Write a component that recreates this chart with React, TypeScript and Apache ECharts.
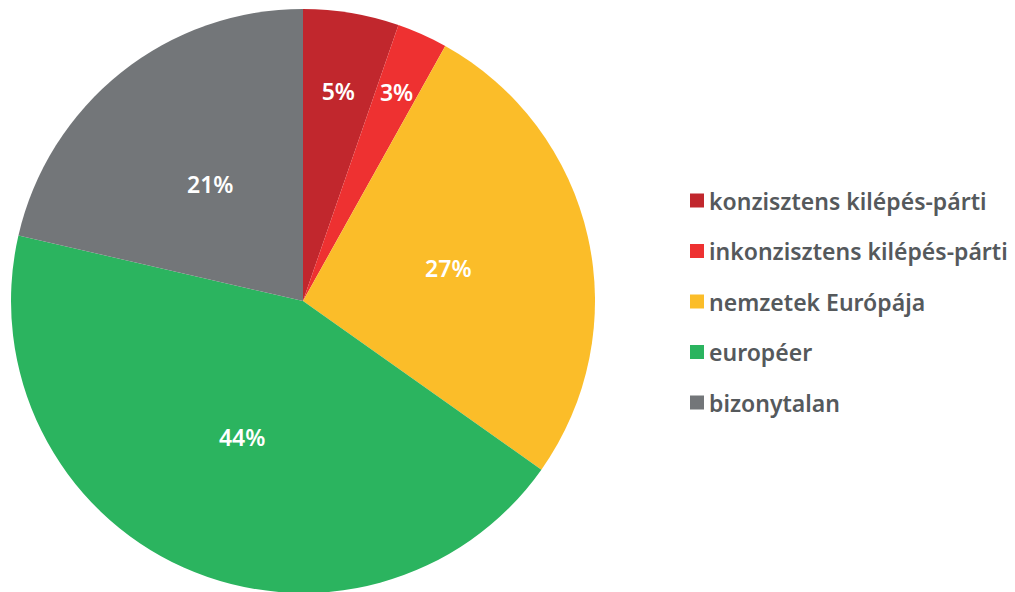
import React, { useEffect, useRef } from "react";
import * as echarts from "echarts";

const categories = [
  "konzisztens kilépés-párti",
  "inkonzisztens kilépés-párti",
  "nemzetek Európája",
  "européer",
  "bizonytalan",
];
const values = [5.3, 2.8, 26.7, 43.8, 21.4];
const colors = ["#c1272d", "#ee3131", "#fbbd29", "#2bb45f", "#737679"];

export default function App() {
  const ref = useRef<HTMLDivElement>(null);
  useEffect(() => {
    document.body.style.margin = "0";
    const chart = echarts.init(ref.current!, null, { renderer: "svg" });
    const total = values.reduce((a, b) => a + b, 0);
    let cum = 0;
    const data = categories.map((name, i) => {
      const mid = ((cum + values[i] / 2) / total) * 2 * Math.PI;
      cum += values[i];
      const shift = values[i] < 4 ? 80 : values[i] < 10 ? 64 : 0;
      return {
        name,
        value: values[i],
        itemStyle: { color: colors[i] },
        label: { offset: [shift * Math.sin(mid), -shift * Math.cos(mid)] },
      };
    });
    chart.setOption({
      animation: false,
      legend: {
        orient: "vertical",
        left: 685,
        top: 184,
        itemWidth: 14,
        itemHeight: 14,
        itemGap: 27.5,
        icon: "rect",
        textStyle: {
          fontFamily: "Noto Sans",
          fontWeight: 600,
          fontSize: 23,
          lineHeight: 20,
          color: "#55595c",
        },
        data: categories,
      },
      series: [
        {
          type: "pie",
          center: [303, 301],
          radius: [0, 292],
          startAngle: 90,
          clockwise: true,
          label: {
            show: true,
            position: "inside",
            color: "#ffffff",
            fontFamily: "Noto Sans",
            fontWeight: 600,
            fontSize: 23,
            formatter: (p: any) => Math.round(p.value) + "%",
          },
          labelLine: { show: false },
          itemStyle: { borderWidth: 0 },
          emphasis: { disabled: true },
          data,
        },
      ],
    });
    return () => chart.dispose();
  }, []);
  return <div ref={ref} style={{ width: 1015, height: 592 }} />;
}
